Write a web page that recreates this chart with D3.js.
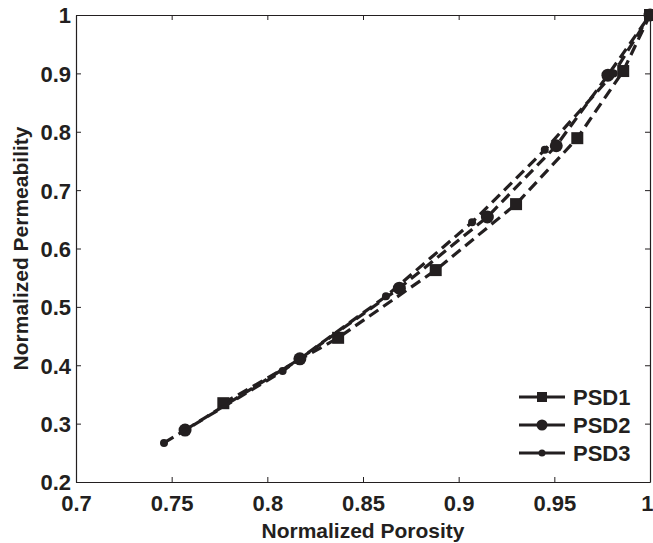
<!DOCTYPE html>
<html>
<head>
<meta charset="utf-8">
<script src="https://cdn.jsdelivr.net/npm/d3@7/dist/d3.min.js"></script>
<style>
  html, body { margin: 0; padding: 0; background: #fff; }
  svg text { font-family: "Liberation Sans", Arial, Helvetica, sans-serif; font-weight: bold; fill: #231f20; }
</style>
</head>
<body>
<svg id="chart" width="653" height="543"></svg>
<script>
const seriesNames = ["PSD1", "PSD2", "PSD3"];
const psd1X = [0.777, 0.837, 0.888, 0.930, 0.962, 0.986, 1.0];
const psd1Y = [0.335, 0.447, 0.563, 0.676, 0.789, 0.904, 1.0];
const psd2X = [0.757, 0.817, 0.869, 0.915, 0.951, 0.978, 1.0];
const psd2Y = [0.289, 0.411, 0.532, 0.654, 0.776, 0.897, 1.0];
const psd3X = [0.746, 0.808, 0.862, 0.907, 0.945, 0.981, 1.0];
const psd3Y = [0.267, 0.390, 0.518, 0.645, 0.769, 0.900, 1.0];
const xTicks = [0.7, 0.75, 0.8, 0.85, 0.9, 0.95, 1];
const yTicks = [0.2, 0.3, 0.4, 0.5, 0.6, 0.7, 0.8, 0.9, 1];
const xLabel = "Normalized Porosity";
const yLabel = "Normalized Permeability";

const svg = d3.select("#chart");
const L = 76, T = 15, R = 650, B = 482;
const x = d3.scaleLinear().domain([0.7, 1]).range([L, R]);
const y = d3.scaleLinear().domain([0.2, 1]).range([B, T]);
const ink = "#231f20";
const fmt = d => (d === 1 ? "1" : String(d));

// axes
const tickLen = 5;
const gB = svg.append("g").attr("transform", `translate(0,${B})`)
  .call(d3.axisBottom(x).tickValues(xTicks).tickFormat(fmt).tickSizeInner(-tickLen).tickSizeOuter(0).tickPadding(13));
const gT = svg.append("g").attr("transform", `translate(0,${T})`)
  .call(d3.axisTop(x).tickValues(xTicks).tickFormat("").tickSizeInner(-tickLen).tickSizeOuter(0));
const gL = svg.append("g").attr("transform", `translate(${L},0)`)
  .call(d3.axisLeft(y).tickValues(yTicks).tickFormat(fmt).tickSizeInner(-tickLen).tickSizeOuter(0).tickPadding(5));
const gR = svg.append("g").attr("transform", `translate(${R},0)`)
  .call(d3.axisRight(y).tickValues(yTicks).tickFormat("").tickSizeInner(-tickLen).tickSizeOuter(0));
[gB, gT, gL, gR].forEach(g => {
  g.selectAll("path").attr("stroke", ink).attr("stroke-width", 1.2);
  g.selectAll("line").attr("stroke", ink).attr("stroke-width", 1);
  g.selectAll("text").style("font-size", "22px").attr("fill", ink);
});
gB.selectAll("text").attr("dy", "0.71em");
gL.selectAll("text").attr("dy", "0.36em");
// keep the last x tick label ("1") inside the picture, at the right edge as in the reference
gB.selectAll(".tick").filter(d => d === 1).select("text").attr("text-anchor", "end").attr("dx", 3);

// axis titles
svg.append("text").attr("x", (L + R) / 2).attr("y", 538).attr("text-anchor", "middle")
  .style("font-size", "21px").text(xLabel);
svg.append("text").attr("transform", `translate(28,${(T + B) / 2}) rotate(-90)`)
  .attr("text-anchor", "middle").style("font-size", "21px").text(yLabel);

const series = [
  { name: seriesNames[0], xs: psd1X, ys: psd1Y, marker: "square", size: 12 },
  { name: seriesNames[1], xs: psd2X, ys: psd2Y, marker: "circle", size: 13 },
  { name: seriesNames[2], xs: psd3X, ys: psd3Y, marker: "circle", size: 8 }
];

const line = d3.line().x(d => x(d[0])).y(d => y(d[1]));
const plot = svg.append("g");

function drawMarker(g, m, cx, cy, s) {
  if (m === "square") {
    g.append("rect").attr("x", cx - s / 2).attr("y", cy - s / 2).attr("width", s).attr("height", s).attr("fill", ink);
  } else {
    g.append("circle").attr("cx", cx).attr("cy", cy).attr("r", s / 2).attr("fill", ink);
  }
}

series.forEach(s => {
  const pts = s.xs.map((v, i) => [v, s.ys[i]]);
  plot.append("path").datum(pts).attr("d", line)
    .attr("fill", "none").attr("stroke", ink).attr("stroke-width", 3.2)
    .attr("stroke-dasharray", "11,6");
  pts.forEach(p => drawMarker(plot, s.marker, x(p[0]), y(p[1]), s.size));
});

// legend
const legYs = [397, 425, 453];
const legSizes = [10, 11, 7];
series.forEach((s, i) => {
  const ly = legYs[i];
  svg.append("line").attr("x1", 519).attr("x2", 565).attr("y1", ly).attr("y2", ly)
    .attr("stroke", ink).attr("stroke-width", 3);
  drawMarker(svg, s.marker, 542, ly, legSizes[i]);
  svg.append("text").attr("x", 573).attr("y", ly).attr("dy", "0.36em")
    .style("font-size", "22px").text(s.name);
});
</script>
</body>
</html>
